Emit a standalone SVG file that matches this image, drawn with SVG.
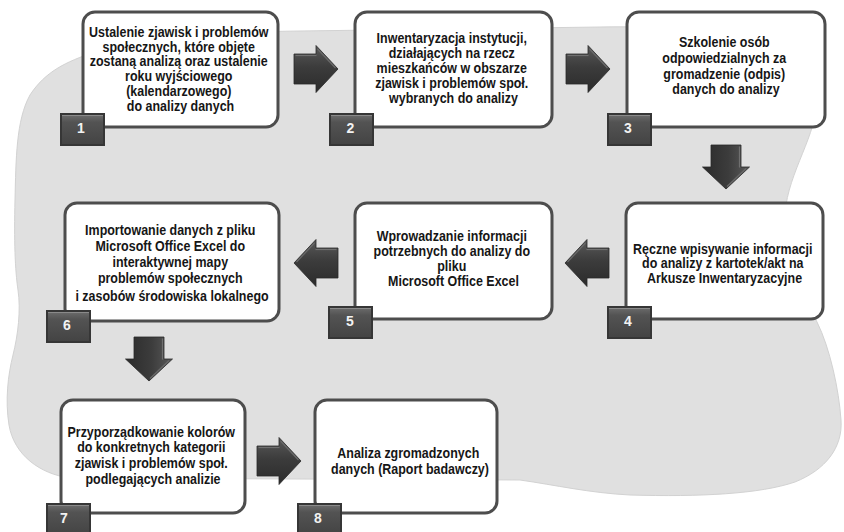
<svg xmlns="http://www.w3.org/2000/svg" width="844" height="532" viewBox="0 0 844 532">
  <style>
    .box { fill: #ffffff; stroke: #4d4d4d; stroke-width: 3; }
    .t { font-family: "Liberation Sans", Arial, sans-serif; font-weight: bold; font-size: 14.5px; fill: #161616; text-anchor: middle; }
    .num { font-family: "Liberation Sans", Arial, sans-serif; font-weight: bold; font-size: 14px; fill: #f2f2f2; text-anchor: middle; }
  </style>
  <defs>
    <linearGradient id="arrowFill" x1="0" y1="0" x2="0" y2="1">
      <stop offset="0" stop-color="#5a5a5a"/>
      <stop offset="0.45" stop-color="#3c3c3c"/>
      <stop offset="1" stop-color="#2b2b2b"/>
    </linearGradient>
    <linearGradient id="badgeFill" x1="0" y1="0" x2="0" y2="1">
      <stop offset="0" stop-color="#6b6b6b"/>
      <stop offset="0.25" stop-color="#535353"/>
      <stop offset="1" stop-color="#444444"/>
    </linearGradient>
    <!-- block arrow pointing right, tail at x=0, tip at x=44 -->
    <g id="arrow">
      <path d="M0,-15 H22 V-23.5 L44,0 L22,23.5 V15 H0 Z" fill="url(#arrowFill)" stroke="#2a2a2a" stroke-width="0.8"/>
      <path d="M1.5,-13.5 H22.5" stroke="#707070" stroke-width="1.2" fill="none"/>
      <path d="M23.5,-20 L41.5,-1" stroke="#6a6a6a" stroke-width="1.2" fill="none"/>
    </g>
    <!-- numbered step badge -->
    <g id="badge">
      <rect x="0" y="0" width="45" height="33" fill="#363636"/>
      <rect x="2" y="2" width="41" height="29" fill="url(#badgeFill)"/>
      <path d="M2,2.5 H43" stroke="#8a8a8a" stroke-width="1"/>
    </g>
  </defs>

  <rect x="0" y="0" width="844" height="532" fill="#ffffff"/>

  <!-- backdrop shape behind the steps -->
  <path id="backdrop" d="M70,478 C40,474 14,455 9,425 C5,400 8,375 13,355 C18,335 21,310 18,290 C15,270 14,240 15,200 C16,160 16,120 30,95 C45,72 65,62 95,52 C160,35 230,32 300,31 L600,27 C720,25 800,40 815,95 C822,125 792,165 786,205 C780,245 800,290 817,322 C830,348 839,390 841,420 C843,448 825,470 795,482 C760,494 700,497 630,495 C590,493 555,485 520,480 Z" fill="#e0e0e0" stroke="#d2d2d2" stroke-width="1"/>

  <!-- arrows between steps -->
  <g id="connectors">
    <use href="#arrow" transform="translate(294,69)"/>
    <use href="#arrow" transform="translate(566,69)"/>
    <use href="#arrow" transform="translate(726,145) rotate(90)"/>
    <use href="#arrow" transform="translate(609,263) scale(-1,1)"/>
    <use href="#arrow" transform="translate(338,263) scale(-1,1)"/>
    <use href="#arrow" transform="translate(149,337) rotate(90)"/>
    <use href="#arrow" transform="translate(257,461)"/>
  </g>

  <!-- step texts use a horizontally condensed bold sans -->
  <g id="node1">
    <rect class="box" x="83" y="12" width="195" height="115" rx="12"/>
    <text class="t" transform="translate(180.5,0) scale(0.86,1)">
      <tspan x="0" y="36.7">Ustalenie zjawisk i problemów</tspan>
      <tspan x="0" y="51.6">społecznych, które objęte</tspan>
      <tspan x="0" y="66.5">zostaną analizą oraz ustalenie</tspan>
      <tspan x="0" y="81.4">roku wyjściowego</tspan>
      <tspan x="0" y="96.3">(kalendarzowego)</tspan>
      <tspan x="0" y="111.2">do analizy danych</tspan>
    </text>
    <use href="#badge" x="60" y="113"/>
    <text class="num" x="81" y="133">1</text>
  </g>

  <g id="node2">
    <rect class="box" x="355" y="12" width="197" height="115" rx="12"/>
    <text class="t" transform="translate(453.5,0) scale(0.86,1)">
      <tspan x="0" y="43.3">Inwentaryzacja instytucji,</tspan>
      <tspan x="0" y="58.2">działających na rzecz</tspan>
      <tspan x="0" y="73.1">mieszkańców w obszarze</tspan>
      <tspan x="0" y="88">zjawisk i problemów społ.</tspan>
      <tspan x="0" y="102.9">wybranych do analizy</tspan>
    </text>
    <use href="#badge" x="329" y="113"/>
    <text class="num" x="350.5" y="133">2</text>
  </g>

  <g id="node3">
    <rect class="box" x="627" y="12" width="198" height="115" rx="12"/>
    <text class="t" transform="translate(726,0) scale(0.86,1)">
      <tspan x="0" y="47.3">Szkolenie osób</tspan>
      <tspan x="0" y="63">odpowiedzialnych za</tspan>
      <tspan x="0" y="78.7">gromadzenie (odpis)</tspan>
      <tspan x="0" y="94.4">danych do analizy</tspan>
    </text>
    <use href="#badge" x="607" y="113"/>
    <text class="num" x="628" y="133">3</text>
  </g>

  <g id="node4">
    <rect class="box" x="626" y="203" width="197" height="116" rx="12"/>
    <text class="t" transform="translate(724.5,0) scale(0.86,1)">
      <tspan x="0" y="254">Ręczne wpisywanie informacji</tspan>
      <tspan x="0" y="268.5">do analizy z kartotek/akt na</tspan>
      <tspan x="0" y="283">Arkusze Inwentaryzacyjne</tspan>
    </text>
    <use href="#badge" x="607" y="306"/>
    <text class="num" x="628" y="326">4</text>
  </g>

  <g id="node5">
    <rect class="box" x="355" y="203" width="197" height="116" rx="12"/>
    <text class="t" transform="translate(453.5,0) scale(0.86,1)">
      <tspan x="0" y="241.5">Wprowadzanie informacji</tspan>
      <tspan x="0" y="256.5">potrzebnych do analizy do</tspan>
      <tspan x="0" y="271.5">pliku</tspan>
      <tspan x="0" y="286.5">Microsoft Office Excel</tspan>
    </text>
    <use href="#badge" x="328" y="306"/>
    <text class="num" x="350" y="326">5</text>
  </g>

  <g id="node6">
    <rect class="box" x="65" y="203" width="214" height="118" rx="12"/>
    <text class="t" transform="translate(172,0) scale(0.86,1)">
      <tspan x="0" y="235">Importowanie danych z pliku</tspan>
      <tspan x="0" y="251">Microsoft Office Excel  do</tspan>
      <tspan x="0" y="267">interaktywnej mapy</tspan>
      <tspan x="0" y="283">problemów społecznych</tspan>
      <tspan x="0" y="301">i zasobów środowiska lokalnego</tspan>
    </text>
    <use href="#badge" x="46" y="310"/>
    <text class="num" x="67" y="330">6</text>
  </g>

  <g id="node7">
    <rect class="box" x="61" y="400" width="184" height="113" rx="12"/>
    <text class="t" transform="translate(153,0) scale(0.86,1)">
      <tspan x="0" y="436.7">Przyporządkowanie  kolorów</tspan>
      <tspan x="0" y="452.5">do konkretnych kategorii</tspan>
      <tspan x="0" y="468.3">zjawisk  i problemów społ.</tspan>
      <tspan x="0" y="484">podlegających analizie</tspan>
    </text>
    <use href="#badge" x="46" y="503"/>
    <text class="num" x="64" y="523">7</text>
  </g>

  <g id="node8">
    <rect class="box" x="315" y="400" width="182" height="113" rx="12"/>
    <text class="t" transform="translate(410,0) scale(0.86,1)">
      <tspan x="0" y="458">Analiza zgromadzonych</tspan>
      <tspan x="0" y="474">danych (Raport badawczy)</tspan>
    </text>
    <use href="#badge" x="297" y="503"/>
    <text class="num" x="318" y="523">8</text>
  </g>
</svg>
